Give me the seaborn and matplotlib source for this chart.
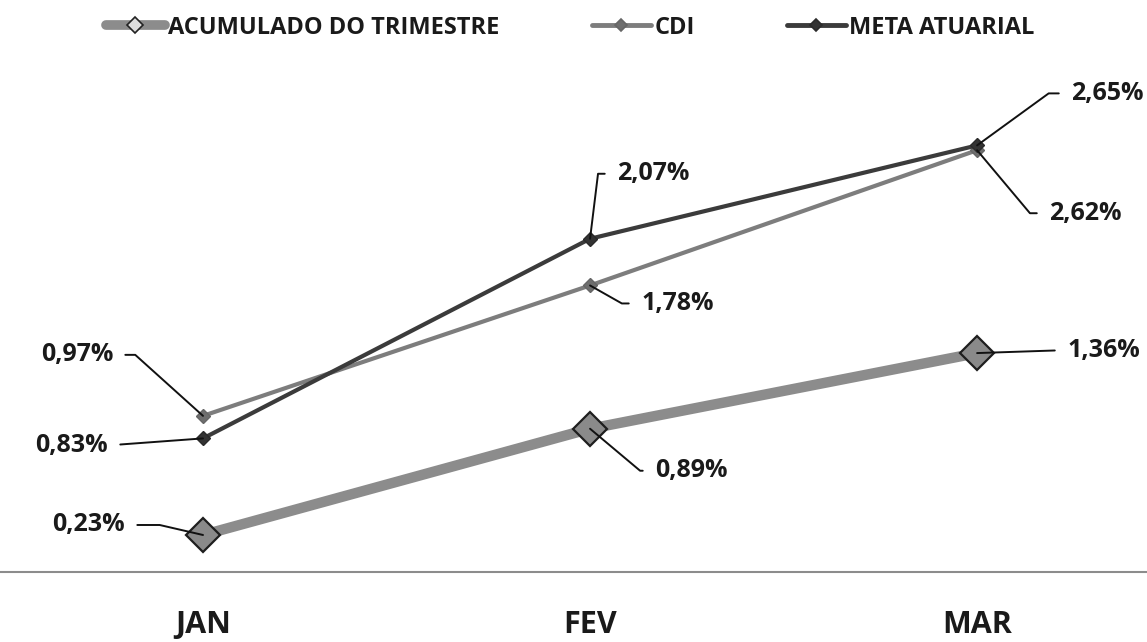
import matplotlib
matplotlib.use("Agg")
import matplotlib.pyplot as plt
from matplotlib.lines import Line2D
import seaborn as sns

# Monthly returns (%) for the quarter
months = ["JAN", "FEV", "MAR"]
acumulado = [0.23, 0.89, 1.36]
cdi = [0.97, 1.78, 2.62]
meta = [0.83, 2.07, 2.65]
series_names = ["ACUMULADO DO TRIMESTRE", "CDI", "META ATUARIAL"]

sns.set_theme(style="white")
plt.rcParams["font.family"] = ["Open Sans", "DejaVu Sans"]

DPI = 100
fig = plt.figure(figsize=(11.47, 6.42), dpi=DPI)
ax = fig.add_axes([0, 0.109, 1, 0.7523])

styles = {
    "ACUMULADO DO TRIMESTRE": dict(color="#8c8c8c", lw=7.5, ms=17, mfc="#8a8a8a",
                                   mec="#1e1e1e", mew=1.6, z=3,
                                   leg=dict(lw=7, ms=8, mfc="#dcdcdc", mec="#222222")),
    "CDI": dict(color="#7d7d7d", lw=3, ms=7.5, mfc="#6e6e6e", mec="#666666",
                mew=1, z=4, leg=dict(lw=3.5, ms=6, mfc="#6e6e6e", mec="#666666")),
    "META ATUARIAL": dict(color="#3b3b3b", lw=3, ms=7.5, mfc="#333333",
                          mec="#2a2a2a", mew=1, z=5,
                          leg=dict(lw=3.5, ms=6, mfc="#333333", mec="#2a2a2a")),
}
values = {"ACUMULADO DO TRIMESTRE": acumulado, "CDI": cdi, "META ATUARIAL": meta}

for name in series_names:
    st = styles[name]
    sns.lineplot(x=months, y=values[name], ax=ax, sort=False, color=st["color"],
                 linewidth=st["lw"], marker="D", markersize=st["ms"],
                 markerfacecolor=st["mfc"], markeredgecolor=st["mec"],
                 markeredgewidth=st["mew"], zorder=st["z"])

ax.set_xlim(-0.5245, 2.439)
ax.set_ylim(0, 3.0)
ax.set_xticks(range(len(months)))
ax.set_xticklabels(months, fontsize=22, fontweight="bold", color="#1a1a1a")
ax.set_yticks([])
ax.tick_params(axis="x", length=0, pad=27)
for side in ("left", "top", "right"):
    ax.spines[side].set_visible(False)
ax.spines["bottom"].set_color("#8c8c8c")
ax.spines["bottom"].set_linewidth(1.5)
ax.set_xlabel("")
ax.set_ylabel("")

# Data labels with leader lines: offset of the label anchor (pixels, +y up),
# horizontal alignment and the slope of the leader segment at the point.
label_layout = {
    ("CDI", 0): (-90, 61, "right", -42),
    ("META ATUARIAL", 0): (-95, -7, "right", None),
    ("ACUMULADO DO TRIMESTRE", 0): (-78, 10, "right", -13),
    ("META ATUARIAL", 1): (27, 65, "left", 83),
    ("CDI", 1): (51, -18, "left", -29.5),
    ("ACUMULADO DO TRIMESTRE", 1): (65, -42, "left", -40),
    ("META ATUARIAL", 2): (94, 52, "left", 36),
    ("CDI", 2): (72, -63, "left", -50),
    ("ACUMULADO DO TRIMESTRE", 2): (90, 3, "left", None),
}
px2pt = 72.0 / DPI
for (name, i), (dx, dy, ha, ang) in label_layout.items():
    v = values[name][i]
    text = f"{v:.2f}%".replace(".", ",")
    if ang is None:
        cs = "arc3,rad=0"
    else:
        cs = f"angle,angleA=0,angleB={ang},rad=0"
    ax.annotate(text, xy=(i, v), xycoords="data",
                xytext=(dx * px2pt, dy * px2pt), textcoords="offset points",
                ha=ha, va="center", fontsize=18, fontweight="bold", color="#1a1a1a",
                zorder=6,
                arrowprops=dict(arrowstyle="-", color="#111111", lw=1.4,
                                connectionstyle=cs, shrinkA=6.5, shrinkB=0,
                                relpos=(1, 0.5) if ha == "right" else (0, 0.5)))

handles = []
for name in series_names:
    st = styles[name]
    lg = st["leg"]
    handles.append(Line2D([], [], color=st["color"], lw=lg["lw"], marker="D",
                          ms=lg["ms"], mfc=lg["mfc"], mec=lg["mec"], mew=1.2))
fig.legend(handles, series_names, loc="center", bbox_to_anchor=(0.497, 0.957),
           ncol=3, frameon=False, prop=dict(weight="bold", size=17),
           handlelength=2.5, handletextpad=0.15, columnspacing=3.9,
           labelcolor="#1a1a1a")

fig.savefig("out.png", dpi=DPI)
